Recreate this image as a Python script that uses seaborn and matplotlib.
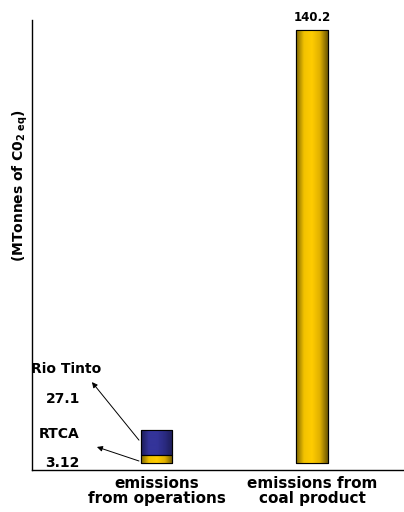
import matplotlib
matplotlib.use("Agg")
import matplotlib.pyplot as plt
import matplotlib.colors as mcolors
import seaborn as sns
import pandas as pd
import numpy as np

# categorias del eje x
categorias = ["emissions\nfrom operations", "emissions from\ncoal product"]
# alturas de las barras tal como se leen en el dibujo (MTonnes CO2 eq)
rtca_altura = [2.6, 0.0]
riotinto_altura = [8.1, 0.0]
carbon_altura = [0.0, 140.2]
# valores escritos en el grafico
etiqueta_rtca = "3.12"
etiqueta_riotinto = "27.1"
etiqueta_carbon = "140.2"

datos = pd.DataFrame({
    "cat": categorias,
    "rtca": rtca_altura,
    "riotinto": riotinto_altura,
    "carbon": carbon_altura,
})
datos["amarillo"] = datos["rtca"] + datos["carbon"]

sns.set_style("white")
plt.rcParams["font.family"] = ["DejaVu Sans"]
plt.rcParams["text.color"] = "black"
plt.rcParams["xtick.color"] = "black"

fig = plt.figure(figsize=(4.04, 5.12), dpi=100)
ax = fig.add_axes([0.0792, 0.082, 0.9208, 0.879])

AMARILLO = "#FFCC00"
AZUL = "#333399"

# barras amarillas (RTCA y carbon)
sns.barplot(data=datos, x="cat", y="amarillo", color=AMARILLO, saturation=1,
            width=0.2, edgecolor="black", linewidth=0.8, ax=ax)
n_amarillas = len(ax.patches)
# barra azul (Rio Tinto) apilada encima de RTCA
sns.barplot(data=datos.iloc[:1], x="cat", y="riotinto", bottom=datos["rtca"].iloc[:1],
            color=AZUL, saturation=1, width=0.2, edgecolor="black", linewidth=0.8, ax=ax)

# degradado tipo cilindro dentro de cada barra
def degradado(colores):
    return mcolors.LinearSegmentedColormap.from_list("g", colores, N=256)

grad = np.linspace(0, 1, 256).reshape(1, -1)
for i, p in enumerate(list(ax.patches)):
    if p.get_height() <= 0:
        continue
    if i >= n_amarillas:
        cmap = degradado(["#1c1c55", "#34349a", "#34349a", "#2a2a80", "#1c1c55"])
    else:
        cmap = degradado(["#7a6200", "#F2C200", "#FFCC00", "#E0B000", "#6a5500"])
    x0, y0 = p.get_x(), p.get_y()
    im = ax.imshow(grad, cmap=cmap, aspect="auto",
                   extent=[x0, x0 + p.get_width(), y0, y0 + p.get_height()],
                   zorder=p.get_zorder() + 0.1)
    im.set_clip_path(p)
    borde = plt.Rectangle((x0, y0), p.get_width(), p.get_height(), fill=False,
                          edgecolor="black", linewidth=0.8, zorder=p.get_zorder() + 0.2)
    ax.add_patch(borde)

ax.set_xlim(-0.8006, 1.592)
ax.set_ylim(-2.27, 143.44)

ax.set_yticks([])
ax.set_xticks([0, 1])
ax.set_xticklabels(categorias, fontsize=11, fontweight="bold", linespacing=1.05)
ax.tick_params(axis="x", length=0, pad=4)
ax.set_xlabel("")
ax.set_ylabel("")
for s in ["top", "right"]:
    ax.spines[s].set_visible(False)
for s in ["left", "bottom"]:
    ax.spines[s].set_color("black")
    ax.spines[s].set_linewidth(1.0)

# textos
ax.text(1, 144.4, etiqueta_carbon, ha="center", va="center", fontsize=8.5, fontweight="bold")
ax.text(-0.582, 30.4, "Rio Tinto", ha="center", va="center", fontsize=10, fontweight="bold")
ax.text(-0.601, 20.7, etiqueta_riotinto, ha="center", va="center", fontsize=10, fontweight="bold")
ax.text(-0.627, 9.4, "RTCA", ha="center", va="center", fontsize=10, fontweight="bold")
ax.text(-0.608, 0.0, etiqueta_rtca, ha="center", va="center", fontsize=10, fontweight="bold")

flecha = dict(arrowstyle="-|>", lw=0.7, color="black", mutation_scale=8, shrinkA=0, shrinkB=0)
ax.annotate("", xy=(-0.415, 26.2), xytext=(-0.1125, 7.4), arrowprops=flecha)
ax.annotate("", xy=(-0.383, 5.2), xytext=(-0.1125, 0.65), arrowprops=flecha)

fig.text(0.0495, 0.637, r"(MTonnes of C0$_{\mathbf{2\ eq}}$)", rotation=90,
         ha="center", va="center", fontsize=10, fontweight="bold")

plt.savefig("out.png", dpi=100)
